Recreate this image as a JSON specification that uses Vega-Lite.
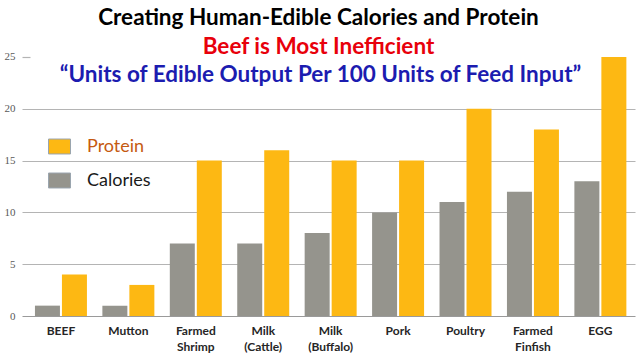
{
  "$schema": "https://vega.github.io/schema/vega-lite/v6.json",
  "autosize": {"type": "none"},
  "width": 613,
  "height": 316,
  "padding": {"left": 22, "top": 0, "right": 5, "bottom": 44},
  "background": "white",
  "config": {"view": {"stroke": null}},
  "layer": [
    {
      "data": {
        "values": [
          {"animal": "BEEF", "metric": "Calories", "value": 1},
          {"animal": "BEEF", "metric": "Protein", "value": 4},
          {"animal": "Mutton", "metric": "Calories", "value": 1},
          {"animal": "Mutton", "metric": "Protein", "value": 3},
          {"animal": "Farmed Shrimp", "metric": "Calories", "value": 7},
          {"animal": "Farmed Shrimp", "metric": "Protein", "value": 15},
          {"animal": "Milk (Cattle)", "metric": "Calories", "value": 7},
          {"animal": "Milk (Cattle)", "metric": "Protein", "value": 16},
          {"animal": "Milk (Buffalo)", "metric": "Calories", "value": 8},
          {"animal": "Milk (Buffalo)", "metric": "Protein", "value": 15},
          {"animal": "Pork", "metric": "Calories", "value": 10},
          {"animal": "Pork", "metric": "Protein", "value": 15},
          {"animal": "Poultry", "metric": "Calories", "value": 11},
          {"animal": "Poultry", "metric": "Protein", "value": 20},
          {"animal": "Farmed Finfish", "metric": "Calories", "value": 12},
          {"animal": "Farmed Finfish", "metric": "Protein", "value": 18},
          {"animal": "EGG", "metric": "Calories", "value": 13},
          {"animal": "EGG", "metric": "Protein", "value": 25}
        ]
      },
      "mark": {"type": "bar"},
      "encoding": {
        "x": {
          "field": "animal",
          "type": "nominal",
          "sort": ["BEEF", "Mutton", "Farmed Shrimp", "Milk (Cattle)", "Milk (Buffalo)", "Pork", "Poultry", "Farmed Finfish", "EGG"],
          "scale": {"paddingInner": 0.229, "paddingOuter": 0.16, "align": 0.6},
          "axis": {
            "title": null,
            "domain": false,
            "ticks": false,
            "labelAngle": 0,
            "labelPadding": 9,
            "labelFont": "Lato",
            "labelFontWeight": "bold",
            "labelFontSize": 12,
            "labelColor": "#262626",
            "labelLineHeight": 16,
            "labelBaseline": "top",
            "labelExpr": "split(datum.label, ' ')"
          }
        },
        "xOffset": {
          "field": "metric",
          "type": "nominal",
          "sort": ["Calories", "Protein"],
          "scale": {"paddingInner": 0.074, "paddingOuter": 0}
        },
        "y": {
          "field": "value",
          "type": "quantitative",
          "scale": {"domain": [0, 30.5], "nice": false, "zero": true},
          "axis": {
            "title": null,
            "values": [0, 5, 10, 15, 20, 25],
            "domain": false,
            "ticks": false,
            "labelPadding": 7,
            "labelFont": "Liberation Sans Narrow",
            "labelFontSize": 11,
            "labelColor": "#595959",
            "gridColor": {"condition": {"test": "datum.value === 0", "value": "#9a9a9a"}, "value": "#b4b4b4"},
            "gridDash": {"condition": {"test": "datum.value === 25", "value": [8, 2000]}, "value": []},
            "gridWidth": 1.2
          }
        },
        "color": {
          "field": "metric",
          "type": "nominal",
          "scale": {"domain": ["Protein", "Calories"], "range": ["#fdb813", "#95948d"]},
          "legend": {
            "title": null,
            "orient": "none",
            "legendX": 26,
            "legendY": 135,
            "padding": 0,
            "symbolType": "M-1,-0.68H1V0.68H-1Z",
            "symbolSize": 484,
            "symbolStrokeColor": "#9aa5ae",
            "symbolStrokeWidth": 1,
            "symbolOpacity": 1,
            "labelFont": "Lato",
            "labelFontSize": 18,
            "labelOffset": 16,
            "rowPadding": 13,
            "encode": {
              "labels": {"update": {"fill": {"signal": "datum.label === 'Protein' ? '#c55a11' : '#1a1a1a'"}}}
            }
          }
        }
      }
    },
    {
      "data": {"values": [{"line": "Creating Human-Edible Calories and Protein"}]},
      "mark": {"type": "text", "font": "Lato", "fontWeight": "bold", "fontSize": 22.5, "color": "#000000", "baseline": "middle", "align": "center", "dx": -10},
      "encoding": {"text": {"field": "line"}, "y": {"datum": 28.76, "type": "quantitative"}}
    },
    {
      "data": {"values": [{"line": "Beef is Most Inefficient"}]},
      "mark": {"type": "text", "font": "Lato", "fontWeight": "bold", "fontSize": 22.5, "color": "#e8000b", "baseline": "middle", "align": "center", "dx": -10},
      "encoding": {"text": {"field": "line"}, "y": {"datum": 25.97, "type": "quantitative"}}
    },
    {
      "data": {"values": [{"line": "“Units of Edible Output Per 100 Units of Feed Input”"}]},
      "mark": {"type": "text", "font": "Lato", "fontWeight": "bold", "fontSize": 22.5, "color": "#1c1cb0", "baseline": "middle", "align": "center", "dx": -8},
      "encoding": {"text": {"field": "line"}, "y": {"datum": 23.26, "type": "quantitative"}}
    }
  ]
}
